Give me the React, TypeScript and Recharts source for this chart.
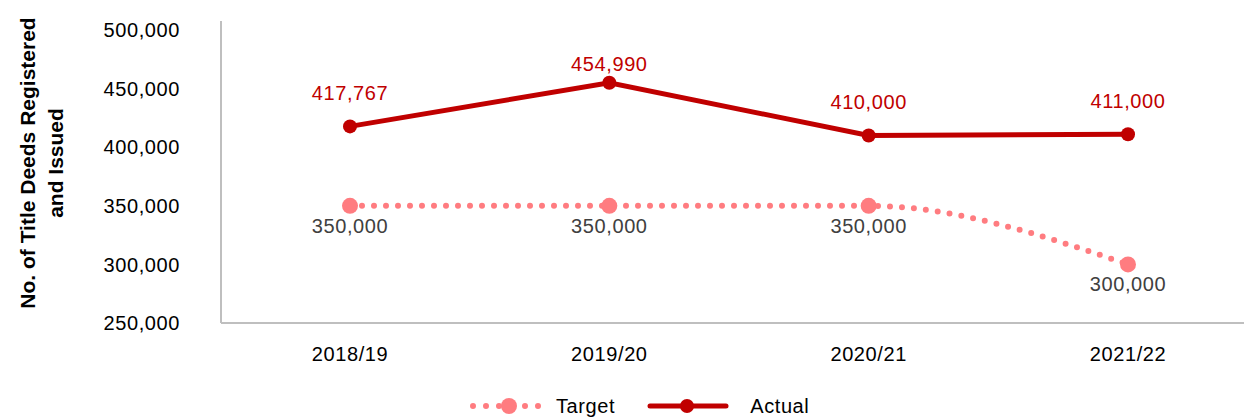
// Title deeds registered and issued: target vs actual, 2018/19 - 2021/22
import React from 'react';
import { LineChart, Line, XAxis, YAxis, Legend, LabelList } from 'recharts';

const periods = ['2018/19', '2019/20', '2020/21', '2021/22'];
const targetValues = [350000, 350000, 350000, 300000];
const actualValues = [417767, 454990, 410000, 411000];
const yTicks = [250000, 300000, 350000, 400000, 450000, 500000];

const data = periods.map((period, i) => ({
  period,
  target: targetValues[i],
  actual: actualValues[i],
}));

const FONT = '"Liberation Sans", Arial, sans-serif';
const ACTUAL = '#c00000';
const TARGET = '#ff7c80';
const TEXT = { fontSize: 20, fontFamily: FONT, letterSpacing: 0.6 };

const fmt = (v: number) => new Intl.NumberFormat('en-US').format(v);

// actual labels sit above the point, but never run off the top of the plot
const ActualLabel = (props: any) => {
  const { x, y, value } = props;
  const cy = Math.max(y - 33, 64);
  return (
    <text x={x} y={cy} textAnchor="middle" dominantBaseline="central" fill={ACTUAL} style={TEXT}>
      {fmt(value)}
    </text>
  );
};

const TargetLabel = (props: any) => {
  const { x, y, value } = props;
  return (
    <text x={x} y={y + 20} textAnchor="middle" dominantBaseline="central" fill="#404040" style={TEXT}>
      {fmt(value)}
    </text>
  );
};

const AxisTitle = () => (
  <g fontFamily={FONT} fontSize={21} fontWeight="bold" fill="#000">
    <text transform="translate(27,163) rotate(-90)" textAnchor="middle" dominantBaseline="central">
      No. of Title Deeds Registered
    </text>
    <text transform="translate(55,163) rotate(-90)" textAnchor="middle" dominantBaseline="central">
      and Issued
    </text>
  </g>
);

const LegendContent = () => (
  <div style={{ display: 'flex', alignItems: 'center', paddingLeft: 470, height: 26, color: '#000', ...TEXT }}>
    <svg width={78} height={20}>
      <line x1={3} y1={10} x2={75} y2={10} stroke={TARGET} strokeWidth={6} strokeDasharray="0 13" strokeLinecap="round" />
      <circle cx={39} cy={10} r={8} fill={TARGET} />
    </svg>
    <span style={{ marginLeft: 8 }}>Target</span>
    <svg width={82} height={20} style={{ marginLeft: 32 }}>
      <line x1={3} y1={10} x2={79} y2={10} stroke={ACTUAL} strokeWidth={5} strokeLinecap="round" />
      <circle cx={40} cy={10} r={7} fill={ACTUAL} />
    </svg>
    <span style={{ marginLeft: 21 }}>Actual</span>
  </div>
);

export default function App() {
  return (
    <div style={{ position: 'absolute', left: 0, top: 0, width: 1244, height: 419, overflow: 'hidden', background: '#fff' }}>
      <LineChart width={1257} height={419} data={data} margin={{ top: 21, right: 0, bottom: 0, left: 0 }}>
        <XAxis
          dataKey="period"
          height={70}
          padding={{ left: 129, right: 129 }}
          axisLine={{ stroke: '#bfbfbf', strokeWidth: 2 }}
          tickLine={false}
          tickSize={0}
          tickMargin={24}
          tick={{ fill: '#000', ...TEXT }}
        />
        <YAxis
          width={221}
          domain={[250000, 507700]}
          ticks={yTicks}
          allowDataOverflow
          tickFormatter={fmt}
          axisLine={{ stroke: '#bfbfbf', strokeWidth: 2 }}
          tickLine={false}
          tickSize={0}
          tickMargin={41}
          tick={{ fill: '#000', ...TEXT }}
          label={<AxisTitle />}
        />
        <Legend verticalAlign="bottom" height={26} content={<LegendContent />} />
        <Line
          type="monotone"
          dataKey="target"
          stroke={TARGET}
          strokeWidth={6}
          strokeDasharray="0 12"
          strokeLinecap="round"
          dot={{ r: 8, fill: TARGET, stroke: 'none' }}
          isAnimationActive={false}
        >
          <LabelList dataKey="target" content={<TargetLabel />} />
        </Line>
        <Line
          type="linear"
          dataKey="actual"
          stroke={ACTUAL}
          strokeWidth={5}
          dot={{ r: 7, fill: ACTUAL, stroke: 'none' }}
          isAnimationActive={false}
        >
          <LabelList dataKey="actual" content={<ActualLabel />} />
        </Line>
      </LineChart>
    </div>
  );
}
